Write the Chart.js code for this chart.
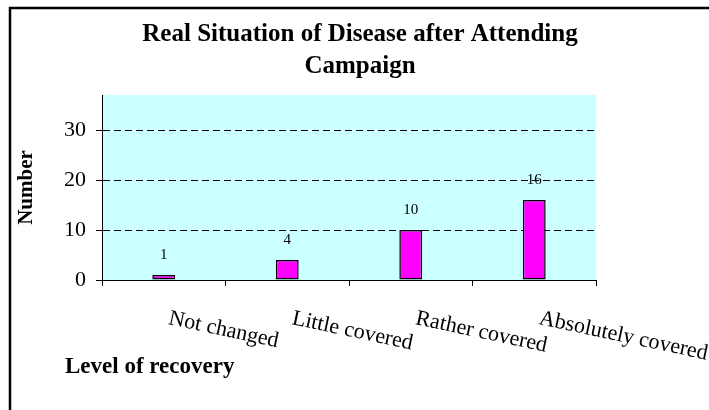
<!DOCTYPE html>
<html>
<head>
<meta charset="utf-8">
<script src="https://cdn.jsdelivr.net/npm/chart.js@4/dist/chart.umd.min.js"></script>
<style>
  html, body { margin: 0; padding: 0; background: #fff; }
  #wrap { width: 709px; height: 410px; }
</style>
</head>
<body>
<div id="wrap"><canvas id="myChart" width="709" height="410"></canvas></div>
<script>
const categories = ['Not changed', 'Little covered', 'Rather covered', 'Absolutely covered'];
const counts = [1, 4, 10, 16];
const yTicks = [0, 10, 20, 30];
const yMax = 37;
const titleLines = ['Real Situation of Disease after Attending', 'Campaign'];

const serif = "'Liberation Serif', 'Times New Roman', serif";

// frame, title, cyan plot background, slanted category labels, value labels
const chartDecor = {
    id: 'chartDecor',
    beforeDraw(chart) {
        const c = chart.ctx;
        const a = chart.chartArea;
        c.save();
        c.fillStyle = '#ccffff';
        c.fillRect(a.left, a.top, a.right - a.left, a.bottom - a.top);
        c.restore();
    },
    afterDraw(chart) {
        const c = chart.ctx;
        const xScale = chart.scales.x;

        c.save();
        c.strokeStyle = '#000';
        c.lineWidth = 2.5;
        c.strokeRect(10, 8, 800, 500);
        c.restore();

        // title, two lines centred on the page
        c.save();
        c.fillStyle = '#000';
        c.font = 'bold 25px ' + serif;
        c.textAlign = 'center';
        c.textBaseline = 'alphabetic';
        titleLines.forEach((line, i) => {
            c.fillText(line, 360, 41 + i * 32);
        });
        c.restore();

        // category labels, slanted down to the right
        c.save();
        c.fillStyle = '#000';
        c.font = '22px ' + serif;
        c.textAlign = 'left';
        c.textBaseline = 'alphabetic';
        categories.forEach((label, i) => {
            const x = xScale.getPixelForValue(i);
            c.save();
            c.translate(x + 4, 324);
            c.rotate(12 * Math.PI / 180);
            c.fillText(label, 0, 0);
            c.restore();
        });
        c.restore();

        // x axis title
        c.save();
        c.fillStyle = '#000';
        c.font = 'bold 23px ' + serif;
        c.textAlign = 'left';
        c.textBaseline = 'alphabetic';
        c.fillText('Level of recovery', 65, 373);
        c.restore();

        // value labels above the bars
        const meta = chart.getDatasetMeta(0);
        c.save();
        c.fillStyle = '#000';
        c.font = '15px ' + serif;
        c.textAlign = 'center';
        c.textBaseline = 'middle';
        meta.data.forEach((bar, i) => {
            c.fillText(String(counts[i]), bar.x, bar.y - 20);
        });
        c.restore();
    }
};

const ctx = document.getElementById('myChart').getContext('2d');

let myChart = new Chart(ctx, {
    type: 'bar',
    data: {
        labels: categories,
        datasets: [{
            data: counts,
            backgroundColor: '#ff00ff',
            borderColor: '#000000',
            borderWidth: 1.5,
            borderSkipped: false,
            barPercentage: 0.185,
            categoryPercentage: 1
        }]
    },
    options: {
        responsive: false,
        animation: false,
        layout: {
            padding: { left: 0, right: 113, top: 95, bottom: 0 }
        },
        plugins: {
            legend: { display: false },
            tooltip: { enabled: false },
            title: { display: false }
        },
        scales: {
            x: {
                offset: true,
                grid: {
                    offset: true,
                    drawOnChartArea: false,
                    drawTicks: true,
                    tickLength: 6,
                    tickColor: '#000',
                    tickWidth: 1
                },
                border: { display: true, color: '#000', width: 1 },
                ticks: { display: false },
                afterFit(scale) { scale.height = 130; }
            },
            y: {
                min: 0,
                max: yMax,
                bounds: 'data',
                afterBuildTicks(scale) {
                    scale.ticks = yTicks.map(v => ({ value: v }));
                },
                ticks: {
                    stepSize: 10,
                    includeBounds: false,
                    color: '#000',
                    padding: 10,
                    font: { family: serif, size: 22 }
                },
                grid: {
                    color: ctx => ctx.tick && ctx.tick.value === 0 ? 'rgba(0,0,0,0)' : '#000',
                    lineWidth: 1,
                    drawTicks: true,
                    tickLength: 6,
                    tickColor: '#000',
                    tickWidth: 1,
                    tickBorderDash: []
                },
                border: { display: true, color: '#000', width: 1, dash: [7, 4] },
                title: {
                    display: true,
                    text: 'Number',
                    color: '#000',
                    font: { family: serif, size: 21, weight: 'bold' },
                    padding: { top: 14, bottom: 0 }
                },
                afterFit(scale) { scale.width = 102; }
            }
        }
    },
    plugins: [chartDecor]
});
</script>
</body>
</html>
